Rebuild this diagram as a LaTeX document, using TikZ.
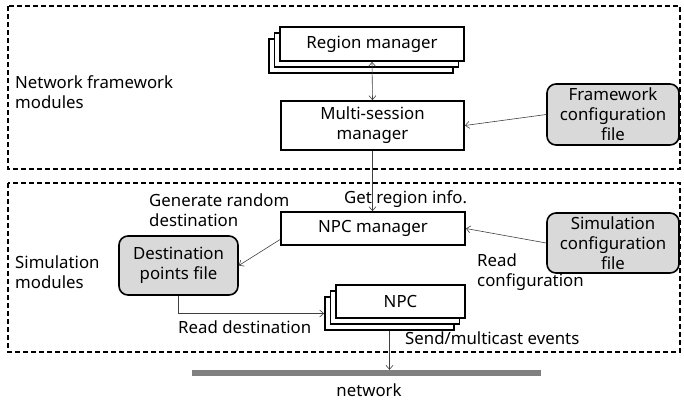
\documentclass[tikz,border=0pt]{standalone}
\usepackage{fontspec}
\setmainfont{Noto Sans}
\usetikzlibrary{arrows.meta}
\tikzset{
  modbox/.style={draw,line width=1.8pt,fill=white,inner sep=0pt,align=center},
  filebox/.style={draw,line width=1.6pt,fill=black!15,rounded corners=9pt,inner sep=0pt,align=center},
  lbl/.style={anchor=west,align=left,inner sep=0pt},
  conn/.style={line width=0.6pt,draw=black!75,-{Straight Barb[length=4pt,width=7pt]}},
  frame/.style={line width=1.8pt,dash pattern=on 5pt off 3pt}
}
\begin{document}
\begin{tikzpicture}[x=1pt,y=-1pt,font=\fontsize{16.8}{20}\selectfont]
\useasboundingbox (0,0) rectangle (684,400);
% module frames
\draw[frame] (8,6) rectangle (680,169);
\draw[frame] (8,183) rectangle (680,352);
\node[lbl] (netlbl) at (15,92) {Network framework\\modules};
\node[lbl] (simlbl) at (15,272) {Simulation\\modules};
% region manager (stacked)
\node[modbox,minimum width=184pt,minimum height=34pt] (rm3) at (361,56) {};
\node[modbox,minimum width=184pt,minimum height=34pt] (rm2) at (366.5,50) {};
\node[modbox,minimum width=184pt,minimum height=34pt] (rm) at (372,44) {Region manager};
\node[modbox,minimum width=183pt,minimum height=49pt] (ms) at (372.5,125.5) {Multi-session\\manager};
\node[filebox,minimum width=132pt,minimum height=61pt] (fw) at (613,114.5) {Framework\\configuration\\file};
% simulation part
\node[modbox,minimum width=184pt,minimum height=33pt] (npcm) at (373,228.5) {NPC manager};
\node[filebox,minimum width=132pt,minimum height=60pt] (sim) at (613,243) {Simulation\\configuration\\file};
\node[filebox,minimum width=119pt,minimum height=59pt] (dest) at (178.5,265.5) {Destination\\points file};
\node[modbox,minimum width=129pt,minimum height=33pt] (npc3) at (389.5,313.5) {};
\node[modbox,minimum width=129pt,minimum height=33pt] (npc2) at (395,307.5) {};
\node[modbox,minimum width=129pt,minimum height=33pt] (npc) at (400.5,301.5) {NPC};
\node[fill=black!50,inner sep=0pt,minimum width=349pt,minimum height=6pt] (net) at (366.5,373) {};
\node[inner sep=0pt] (netname) at (369,390) {network};
% connectors
\draw[conn,{Straight Barb[length=4pt,width=7pt]}-{Straight Barb[length=4pt,width=7pt]}] (rm.south) -- (ms.north);
\draw[conn] (fw.west) -- (ms.east);
\draw[conn] (ms.south) -- (ms.south |- npcm.north);
\draw[conn] (sim.west) -- (npcm.east);
\draw[conn] ([yshift=-11pt]npcm.west) -- (dest.east);
\draw[conn] (dest.south) |- (npc3.west);
\draw[conn] (npc3.south) -- (npc3.south |- net.north);
% labels
\node[lbl] (getinfo) at (344,199) {Get region info.};
\node[lbl] (genrand) at (149,210) {Generate random\\destination};
\node[lbl] (readcfg) at (477,272) {Read\\configuration};
\node[lbl] (readdest) at (178,327) {Read destination};
\node[lbl] (sendev) at (405,338) {Send/multicast events};
\end{tikzpicture}
\end{document}
